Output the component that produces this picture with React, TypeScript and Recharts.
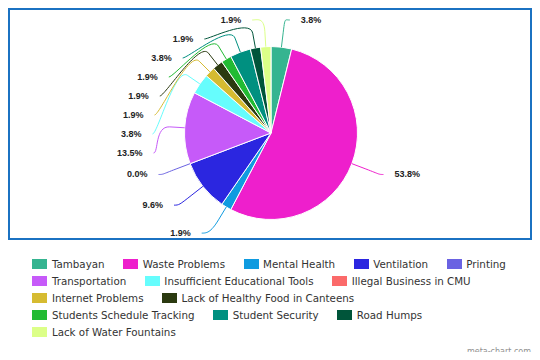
import React from "react";
import { PieChart, Pie, Cell } from "recharts";

const categories = [
  "Tambayan",
  "Waste Problems",
  "Mental Health",
  "Ventilation",
  "Printing",
  "Transportation",
  "Insufficient Educational Tools",
  "Illegal Business in CMU",
  "Internet Problems",
  "Lack of Healthy Food in Canteens",
  "Students Schedule Tracking",
  "Student Security",
  "Road Humps",
  "Lack of Water Fountains",
];

// response counts (percent labels = count / total)
const counts: (number | null)[] = [2, 28, 1, 5, 0, 7, 2, null, 1, 1, 1, 2, 1, 1];

const colors = [
  "#35b490",
  "#ee1fcc",
  "#0f9be0",
  "#2b26e0",
  "#6a62e2",
  "#c65af9",
  "#66fdfd",
  "#fb6a6a",
  "#d6bb31",
  "#2b3a10",
  "#22bb33",
  "#009080",
  "#00553a",
  "#dcff88",
];

const pieData = categories
  .map((name, i) => ({ name, value: counts[i], color: colors[i] }))
  .filter((d) => d.value !== null) as { name: string; value: number; color: string }[];

const total = pieData.reduce((s, d) => s + d.value, 0);

const LABEL_R = 117;
const LABEL_RX = 118.5;
const SPACING = 19;
const MIN_Y = 12;
const BREAK = 15;
const RAD = Math.PI / 180;

type LabelPos = { y: number; ax: number; mid: number; left: boolean };

function computeLayout(cx: number, cy: number): LabelPos[] {
  let acc = 0;
  const items = pieData.map((d, i) => {
    const start = (acc / total) * 360;
    acc += d.value;
    const end = (acc / total) * 360;
    const mid = (start + end) / 2;
    const natural = cy - LABEL_R * Math.cos(mid * RAD);
    return { i, mid, natural, left: Math.sin(mid * RAD) < 0, y: natural, ax: 0 };
  });
  [true, false].forEach((side) => {
    const group = items.filter((it) => it.left === side).sort((a, b) => a.natural - b.natural);
    let prev = -Infinity;
    group.forEach((it) => {
      it.y = Math.max(it.natural, prev + SPACING, MIN_Y);
      prev = it.y;
    });
  });
  items.forEach((it) => {
    const dy = it.y - 4 - cy;
    const dx = Math.sqrt(Math.max(LABEL_RX * LABEL_RX - dy * dy, 0));
    it.ax = cx + (it.left ? -dx : dx);
  });
  const out: LabelPos[] = [];
  items.forEach((it) => {
    out[it.i] = { y: it.y, ax: it.ax, mid: it.mid, left: it.left };
  });
  return out;
}

const renderLabel = (props: any) => {
  const { cx, cy, outerRadius, index } = props;
  const layout = computeLayout(cx, cy);
  const L = layout[index];
  const d = pieData[index];
  if (!L || !d) return null;
  const s = L.left ? 1 : -1;
  const sinM = Math.sin(L.mid * RAD);
  const cosM = Math.cos(L.mid * RAD);
  const ex = cx + outerRadius * sinM;
  const ey = cy - outerRadius * cosM;
  const bx = cx + (outerRadius + BREAK) * sinM;
  const by = cy - (outerRadius + BREAK) * cosM;
  const c2x = 2 * bx - ex;
  const c2y = 2 * by - ey;
  const path = `M${L.ax},${L.y} C${L.ax + s * 5},${L.y} ${c2x},${c2y} ${bx},${by} L${ex},${ey}`;
  const pct = ((d.value / total) * 100).toFixed(1) + "%";
  return (
    <g>
      <path d={path} stroke={d.color} strokeWidth={1} fill="none" />
      <text
        x={L.ax - s * 11}
        y={L.y}
        textAnchor={L.left ? "end" : "start"}
        dominantBaseline="central"
        fontFamily="'Liberation Sans', Arial, sans-serif"
        fontWeight="bold"
        fontSize={9}
        fill="#222"
      >
        {pct}
      </text>
    </g>
  );
};

export default function App() {
  return (
    <div style={{ position: "relative", width: 524, height: 344 }}>
      <div
        style={{
          position: "absolute",
          left: 0,
          top: 0,
          width: 524,
          height: 232,
          boxSizing: "border-box",
          border: "2px solid #1b72c2",
        }}
      />
      <div style={{ position: "absolute", left: 0, top: 0 }}>
        <PieChart width={524} height={240} margin={{ top: 0, right: 0, bottom: 0, left: 0 }}>
          <Pie
            data={pieData}
            dataKey="value"
            nameKey="name"
            cx={263}
            cy={125}
            outerRadius={86.5}
            startAngle={90}
            endAngle={-270}
            stroke="#ffffff"
            strokeWidth={1}
            isAnimationActive={false}
            label={renderLabel}
            labelLine={false}
          >
            {pieData.map((d) => (
              <Cell key={d.name} fill={d.color} />
            ))}
          </Pie>
        </PieChart>
      </div>
      <div
        style={{
          position: "absolute",
          left: 24.3,
          top: 247.5,
          width: 483,
          display: "flex",
          flexWrap: "wrap",
          columnGap: 18.5,
          fontFamily: "'DejaVu Sans', sans-serif",
          fontSize: 10.3,
          color: "#333",
        }}
      >
        {categories.map((c, i) => (
          <div key={c} style={{ display: "flex", alignItems: "center", height: 17 }}>
            <span
              style={{
                display: "inline-block",
                width: 15,
                height: 10,
                background: colors[i],
                marginRight: 4.6,
              }}
            />
            <span style={{ whiteSpace: "nowrap" }}>{c}</span>
          </div>
        ))}
      </div>
      <div
        style={{
          position: "absolute",
          right: 1,
          top: 339,
          fontFamily: "'DejaVu Sans', sans-serif",
          fontSize: 8,
          color: "#909090",
        }}
      >
        meta-chart.com
      </div>
    </div>
  );
}
